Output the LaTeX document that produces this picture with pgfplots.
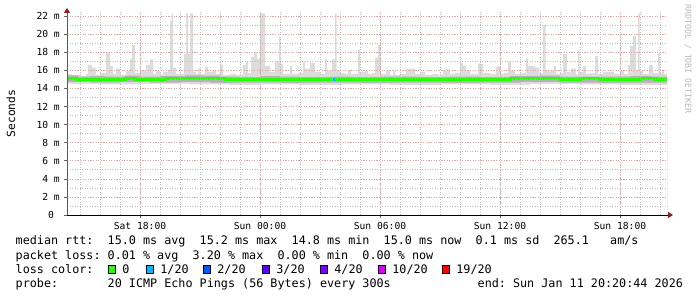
\documentclass[border=0pt]{standalone}
\usepackage{pgfplots}
\pgfplotsset{compat=1.18}
\usepackage{fontspec}
\setmonofont{DejaVu Sans Mono}
\usetikzlibrary{arrows.meta}
\definecolor{mgrid}{RGB}{228,165,165}
\definecolor{ngrid}{RGB}{190,190,190}
\definecolor{smokeA}{RGB}{220,220,220}
\definecolor{smokeB}{RGB}{180,180,180}
\definecolor{arrowred}{RGB}{140,30,30}
\definecolor{l0}{HTML}{26FF00}
\definecolor{l1}{HTML}{00B8FF}
\definecolor{l2}{HTML}{0059FF}
\definecolor{l3}{HTML}{5E00FF}
\definecolor{l4}{HTML}{7E00FF}
\definecolor{l10}{HTML}{DD00FF}
\definecolor{l19}{HTML}{FF0000}
\newcommand{\legfont}{\ttfamily\fontsize{11.8}{14}\selectfont}
\newcommand{\axfont}{\ttfamily\fontsize{9.7}{11}\selectfont}
\begin{document}
\begin{tikzpicture}
\useasboundingbox (0,0) rectangle (697bp,297bp);
\begin{axis}[
  at={(67bp,82bp)}, anchor=south west,
  scale only axis, width=600bp, height=203bp,
  xmin=-3.65, xmax=26.35, ymin=0, ymax=22.45,
  axis x line=bottom, axis y line=left,
  x axis line style={draw=black, line width=0.8bp, -{Triangle[length=5bp,width=6bp,color=arrowred]}, shorten >=-6bp},
  y axis line style={draw=black!65, line width=0.8bp, -{Triangle[length=5bp,width=6bp,color=arrowred]}, shorten >=-4bp},
  axis on top,
  xtick={0,6,12,18,24},
  xticklabels={Sat 18:00, Sun 00:00, Sun 06:00, Sun 12:00, Sun 18:00},
  minor xtick={-3,-2,...,26},
  ytick={0,2,...,22},
  yticklabels={0~~,2~m,4~m,6~m,8~m,10~m,12~m,14~m,16~m,18~m,20~m,22~m},
  minor ytick={1,3,...,21},
  grid=both,
  major grid style={draw=mgrid, line width=0.65bp, dash pattern=on 1.2bp off 1.4bp},
  minor grid style={draw=ngrid, line width=0.6bp, dash pattern=on 0.9bp off 1.6bp},
  tick align=outside,
  major tick length=3bp, minor tick length=0bp,
  tick style={draw=black!60, line width=0.6bp},
  tick label style={font=\axfont},
  xticklabel style={inner sep=0pt, yshift=-4.5bp},
  yticklabel style={inner sep=0pt, xshift=-4bp},
]
% light smoke envelope (max)
\addplot[draw=none, fill=smokeA, const plot] coordinates {
(-3.65,15.6) (-3.4,15.5) (-3.0,15.4) (-2.7,15.6) (-2.6,16.6) (-2.4,16.3) (-2.2,15.5) (-2.0,15.7) (-1.7,18.0) (-1.5,16.5) (-1.35,15.6) (-1.2,16.2) (-1.0,15.5) (-0.7,15.9) (-0.5,17.3) (-0.4,18.8) (-0.25,15.7) (0,16.0) (0.3,16.6) (0.5,17.2) (0.65,15.6) (0.8,15.9) (1.0,15.5) (1.15,15.8) (1.4,16.0) (1.5,21.5) (1.575,22.3) (1.65,16.3) (1.8,15.6) (2.2,17.8) (2.3,22.3) (2.4,17.8) (2.5,22.3) (2.65,15.8) (2.8,15.6) (2.9,16.2) (3.0,15.6) (3.25,16.4) (3.4,15.8) (3.6,16.0) (3.8,15.6) (4.0,16.6) (4.15,15.5) (4.5,15.6) (4.8,15.5) (5.15,16.6) (5.3,17.0) (5.4,15.7) (5.55,17.5) (5.7,18.0) (5.85,17.3) (6.0,22.3) (6.25,16.5) (6.5,15.8) (6.75,17.0) (6.95,19.7) (7.025,16.7) (7.15,15.6) (7.5,16.5) (7.6,15.6) (7.9,15.7) (8.15,17.0) (8.25,16.2) (8.5,16.8) (8.75,15.8) (9.0,15.6) (9.25,17.2) (9.35,16.0) (9.6,17.2) (9.75,22.3) (9.825,16.0) (10.0,15.7) (10.25,15.6) (10.4,16.0) (10.55,15.6) (10.9,18.3) (11.0,15.8) (11.25,16.0) (11.4,15.6) (11.6,15.7) (11.75,17.4) (11.9,18.8) (12.0,15.6) (12.3,15.9) (12.5,15.5) (12.65,16.0) (12.75,15.5) (13.0,15.6) (13.3,16.2) (13.75,15.6) (14.05,15.8) (14.25,15.5) (14.6,15.6) (14.9,15.5) (15.15,16.0) (15.3,16.1) (15.5,15.6) (15.75,15.7) (16.0,16.8) (16.15,16.5) (16.3,16.0) (16.5,15.6) (16.9,16.7) (17.15,15.7) (17.5,15.6) (17.8,16.4) (18.0,15.6) (18.2,15.7) (18.4,17.0) (18.55,16.0) (18.75,15.6) (19.0,15.7) (19.3,17.3) (19.4,16.5) (19.75,16.3) (19.95,15.7) (20.15,21.0) (20.275,16.0) (20.55,16.0) (20.7,16.5) (20.8,15.6) (21.0,15.7) (21.15,17.8) (21.35,15.8) (21.55,16.2) (21.8,15.6) (21.9,18.1) (21.975,15.8) (22.15,16.5) (22.3,15.6) (22.5,15.7) (22.75,17.6) (22.9,15.6) (23.15,15.8) (23.7,15.6) (24.05,16.0) (24.2,15.6) (24.4,16.6) (24.5,18.7) (24.65,19.8) (24.8,16.0) (24.9,22.3) (24.975,16.0) (25.15,15.6) (25.45,16.6) (25.65,15.7) (25.9,17.9) (26.0,15.7) (26.1,16.0) (26.2,15.6) (26.35,15.6)
} \closedcycle;
% darker smoke band (upper edge)
\addplot[draw=none, fill=smokeB, const plot] coordinates {
(-3.65,15.45) (-3.1,15.3) (-2.5,15.35) (-1.75,15.3) (-0.75,15.4) (0,15.3) (1.0,15.35) (2.25,15.45) (3.0,15.4) (4.0,15.3) (5.0,15.25) (6.0,15.35) (7.0,15.3) (8.0,15.25) (9.5,15.3) (10.5,15.25) (12.0,15.3) (14.0,15.25) (15.5,15.3) (17.0,15.25) (18.5,15.35) (20.0,15.4) (21.0,15.3) (23.0,15.3) (24.5,15.35) (25.5,15.3) (26.35,15.3)
} \closedcycle;
% light smoke below
\addplot[draw=none, fill=smokeA, const plot] coordinates {
(-3.65,14.7) (-2.5,14.65) (-1.0,14.7) (0.5,14.65) (2.0,14.7) (3.5,14.6) (5.0,14.65) (7.0,14.6) (9.0,14.65) (11.0,14.6) (13.0,14.65) (15.0,14.6) (17.0,14.65) (19.0,14.7) (21.0,14.65) (23.0,14.6) (25.0,14.65) (26.35,14.65)
} \closedcycle;
% minimum (white below)
\addplot[draw=none, fill=white, const plot] coordinates {
(-3.65,14.5) (-2.0,14.45) (0.0,14.5) (2.5,14.45) (4.5,14.4) (6.0,14.45) (8.0,14.4) (10.0,14.45) (12.5,14.4) (15.0,14.45) (17.5,14.4) (19.5,14.5) (22.0,14.45) (24.0,14.4) (26.35,14.45)
} \closedcycle;
% median rtt (loss 0)
\addplot[draw=l0, line width=3bp, const plot, mark=none] coordinates {
(-3.65,15.15) (-3.2,15.0) (-2.75,14.95) (-2.25,15.0) (-1.5,14.95) (-0.75,15.05) (-0.25,15.0) (1.25,15.05) (2.0,15.1) (2.75,15.15) (3.75,15.05) (4.25,14.95) (5.25,15.0) (6.25,14.95) (7.25,15.0) (8.0,14.95) (9.0,15.0) (10.5,14.95) (11.5,15.0) (12.5,14.95) (13.5,15.0) (14.5,14.95) (15.5,15.0) (16.5,14.95) (17.5,15.0) (18.5,15.05) (19.25,15.15) (20.25,15.05) (21.0,15.0) (22.0,15.05) (23.0,15.0) (24.0,14.95) (25.0,15.05) (25.75,15.0) (26.35,15.0)
};
% median rtt (loss 1/20)
\addplot[draw=l1, line width=3bp, mark=none] coordinates {(9.65,15.0) (9.8,15.0)};
\end{axis}
% y label
\node[rotate=90, inner sep=0pt, font=\ttfamily\fontsize{11.3}{13}\selectfont] at (11bp,183.5bp) {Seconds};
% watermark
\node[rotate=-90, inner sep=0pt, text=black!28, font=\ttfamily\fontsize{8.3}{10}\selectfont] at (688bp,238bp) {RRDTOOL / TOBI OETIKER};
% legend lines
\node[anchor=base west, inner sep=0pt, font=\legfont] at (15.5bp,52bp) {median~rtt:~~15.0~ms~avg~~15.2~ms~max~~14.8~ms~min~~15.0~ms~now~~0.1~ms~sd~~265.1~~~am/s};
\node[anchor=base west, inner sep=0pt, font=\legfont] at (15.5bp,38bp) {packet~loss:~0.01~\%~avg~~3.20~\%~max~~0.00~\%~min~~0.00~\%~now};
\node[anchor=base west, inner sep=0pt, font=\legfont] at (15.5bp,24bp) {loss~color:};
\node[anchor=base west, inner sep=0pt, font=\legfont] at (15.5bp,10bp) {probe:~~~~~~~20~ICMP~Echo~Pings~(56~Bytes)~every~300s};
\node[anchor=base west, inner sep=0pt, font=\legfont] at (477.5bp,10bp) {end:~Sun~Jan~11~20:20:44~2026};
% loss colour swatches
\foreach \bx/\col/\lab in {108/l0/0, 146/l1/1\slash 20, 203/l2/2\slash 20, 262/l3/3\slash 20, 320/l4/4\slash 20, 378/l10/10\slash 20, 442/l19/19\slash 20}{
  \draw[fill=\col, draw=black, line width=0.7bp] (\bx bp,24bp) rectangle ++(7.5bp,7.3bp);
  \node[anchor=base west, inner sep=0pt, font=\legfont] at (\bx bp+14.2bp,24bp) {\lab};
}
\end{tikzpicture}
\end{document}
